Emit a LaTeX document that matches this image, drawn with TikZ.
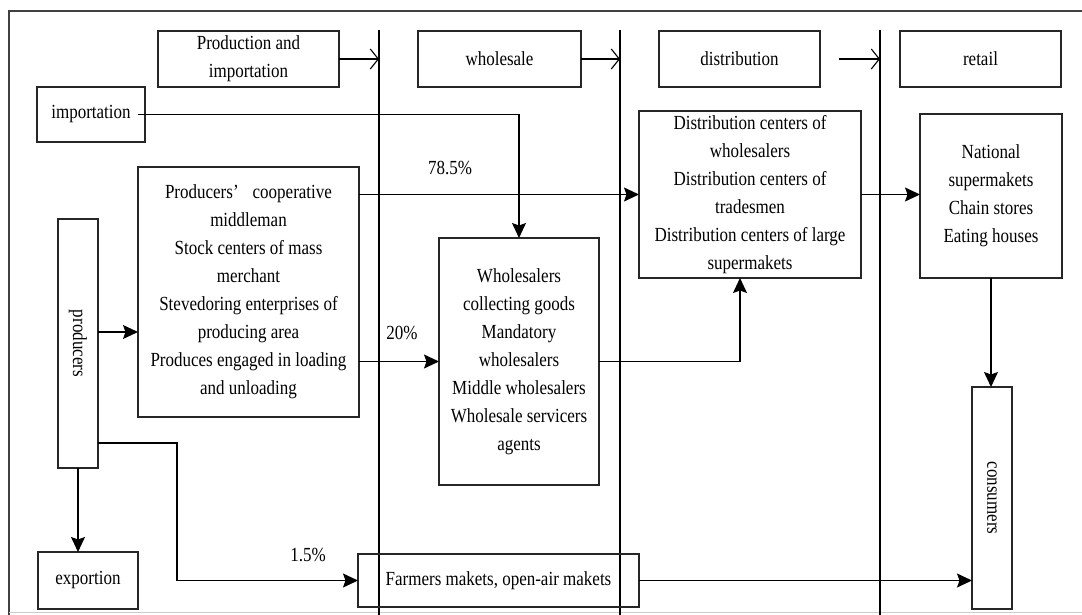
\documentclass[tikz,border=0pt]{standalone}
\usepackage{fontspec}
\setmainfont{Liberation Serif}[FakeStretch=0.85]
\usetikzlibrary{arrows.meta}
\newcommand{\txtfont}{\fontsize{20}{28}\selectfont}
\begin{document}
\begin{tikzpicture}[x=1pt,y=-1pt,
  box/.style={draw=black!85, line width=1.5pt, inner sep=0pt, outer sep=0pt,
    align=center, font=\txtfont},
  lbl/.style={inner sep=0pt, font=\txtfont},
  arr/.style={line width=1.3pt, -{Stealth[length=15pt,width=14pt,inset=2.5pt]}},
  harr/.style={line width=1.1pt, -{Straight Barb[length=8pt,width=20pt]}},
  sepline/.style={line width=1.2pt},
  frame/.style={line width=1.8pt, draw=black!75}]
\useasboundingbox (0,0) rectangle (1082,615);
% frame
\draw[frame] (1082,11) -- (9,11) -- (9,615);
\draw[black!20, line width=1pt] (9,612.5) -- (1082,612.5);
% separator lines
\coordinate (v1t) at (379,30); \coordinate (v1b) at (379,615);
\coordinate (v2t) at (620,30); \coordinate (v2b) at (620,615);
\coordinate (v3t) at (880,30); \coordinate (v3b) at (880,615);
\draw[sepline] (v1t) -- (v1b);
\draw[sepline] (v2t) -- (v2b);
\draw[sepline] (v3t) -- (v3b);
% header boxes
\node[box, minimum width=181, minimum height=56] (prod) at (248.5,59) {Production and\\importation};
\node[box, minimum width=163, minimum height=56] (whs) at (499.5,59) {wholesale};
\node[box, minimum width=161, minimum height=56] (dis) at (739.5,59) {distribution};
\node[box, minimum width=161, minimum height=56] (ret) at (980.5,59) {retail};
\coordinate (a3s) at (839,59);
\draw[harr] (prod.east) -- (prod.east -| v1t);
\draw[harr] (whs.east) -- (whs.east -| v2t);
\draw[harr] (a3s) -- (a3s -| v3t);
% main boxes
\node[box, minimum width=108, minimum height=55] (imp) at (91,114.5) {importation};
\node[box, minimum width=221, minimum height=250] (pc) at (248.5,292)
  {Producers’\hspace{14pt}cooperative\\middleman\\Stock centers of mass\\merchant\\Stevedoring enterprises of\\producing area\\Produces engaged in loading\\and unloading};
\node[box, minimum width=40, minimum height=249,
  label={[rotate=-90, font=\txtfont]center:producers}] (p) at (78,343.5) {};
\node[box, minimum width=100, minimum height=57] (e) at (88,580.5) {exportion};
\node[box, minimum width=281, minimum height=53] (f) at (498.5,580.5) {Farmers makets, open-air makets};
\node[box, minimum width=160, minimum height=247] (w) at (519,361.5)
  {Wholesalers\\collecting goods\\Mandatory\\wholesalers\\Middle wholesalers\\Wholesale servicers\\agents};
\node[box, minimum width=222, minimum height=167] (d) at (750,194.5)
  {Distribution centers of\\wholesalers\\Distribution centers of\\tradesmen\\Distribution centers of large\\supermakets};
\node[box, minimum width=142, minimum height=164] (r) at (991,196)
  {National\\supermakets\\Chain stores\\Eating houses};
\node[box, minimum width=40, minimum height=222,
  label={[rotate=-90, font=\txtfont]center:consumers}] (c) at (992,498) {};
% percentages
\node[lbl] (l785) at (450,168) {78.5\%};
\node[lbl] (l20) at (402,333) {20\%};
\node[lbl] (l15) at (308,555) {1.5\%};
% connectors
\draw[arr] ([xshift=-7pt]imp.east) -- (imp.east -| w.north) -- (w.north);
\draw[arr] (d.west -| pc.east) -- (d.west);
\draw[arr] (d.east) -- (d.east -| r.west);
\draw[arr] (w.west -| pc.east) -- (w.west);
\draw[arr] (w.east) -| ([xshift=-10pt]d.south);
\coordinate (pin) at (98,332);
\draw[arr] (pin) -- (pin -| pc.west);
\draw[arr] (p.south) -- (p.south |- e.north);
\coordinate (pout) at (98,443);
\coordinate (knee) at (177,443);
\draw[arr] (pout) -- (knee) |- (f.west);
\draw[arr] (f.east) -- (f.east -| c.west);
\draw[arr] (r.south) -- (r.south |- c.north);
\end{tikzpicture}
\end{document}
